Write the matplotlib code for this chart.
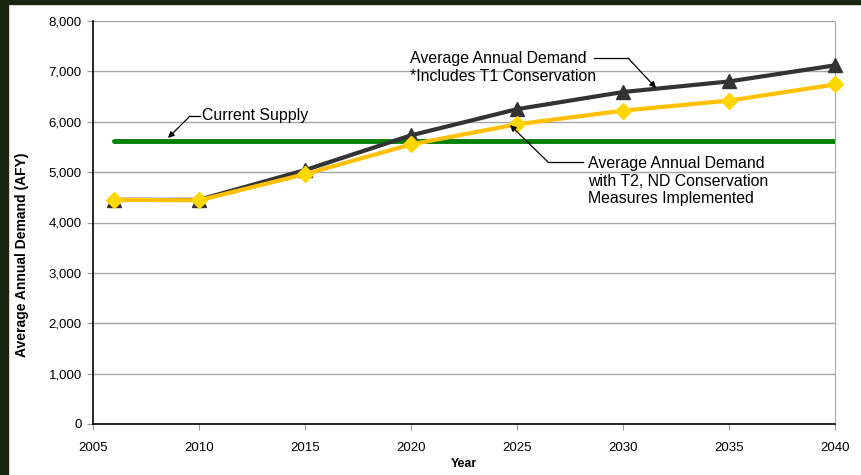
import matplotlib
matplotlib.use("Agg")
import matplotlib.pyplot as plt
from matplotlib.patches import Rectangle

plt.rcParams['font.family'] = ['Liberation Sans', 'DejaVu Sans']

years = [2006, 2010, 2015, 2020, 2025, 2030, 2035, 2040]
demand_t1 = [4450, 4450, 5040, 5730, 6250, 6590, 6800, 7120]
demand_t2 = [4450, 4440, 4960, 5550, 5950, 6220, 6420, 6740]
supply_years = [2006, 2040]
supply = [5620, 5620]

fig = plt.figure(figsize=(8.62, 4.75), dpi=100)
fig.patch.set_facecolor('white')
# dark frame strips (left and top)
fig.add_artist(Rectangle((0, 0), 8/862, 1, transform=fig.transFigure, color='#17260f', zorder=0))
fig.add_artist(Rectangle((0, 1 - 4/475), 1, 4/475, transform=fig.transFigure, color='#17260f', zorder=0))

ax = fig.add_axes([93/862, 51/475, 742/862, 403/475])
ax.set_xlim(2005, 2040)
ax.set_ylim(0, 8000)
ax.set_xticks(range(2005, 2041, 5))
ax.set_yticks(range(0, 8001, 1000))
ax.set_yticklabels([f"{v:,}" for v in range(0, 8001, 1000)])
ax.tick_params(axis='both', labelsize=9.5, length=4, color='#999999')
ax.tick_params(axis='y', pad=4)
ax.tick_params(axis='x', pad=9)
ax.grid(axis='y', color='#a6a6a6', linewidth=1)
ax.set_axisbelow(True)

ax.spines['top'].set_visible(False)
ax.spines['right'].set_color('#aaaaaa')
ax.spines['right'].set_linestyle((0, (2, 1)))
ax.spines['right'].set_linewidth(0.8)
ax.spines['left'].set_color('black')
ax.spines['bottom'].set_color('black')
ax.spines['left'].set_linewidth(1.2)
ax.spines['bottom'].set_linewidth(1.2)

ax.plot(supply_years, supply, color='#008000', linewidth=3.5, zorder=2, solid_capstyle='round')
ax.plot(years, demand_t1, color='#333333', linewidth=3, marker='^', markersize=9.5,
        markerfacecolor='#333333', markeredgecolor='#333333', zorder=3, clip_on=False)
ax.plot(years, demand_t2, color='#FFC000', linewidth=3, marker='D', markersize=8.5,
        markerfacecolor='#FFD700', markeredgecolor='#FFD700', zorder=4, clip_on=False)

ax.set_xlabel('Year', fontsize=9, fontweight='bold', labelpad=3)
ax.set_ylabel('Average Annual Demand (AFY)', fontsize=10, fontweight='bold')
ax.yaxis.set_label_coords(-0.0865, 0.419)

def px2data(x, y):
    X = 2005 + (x - 93) / 742 * 35
    Y = (424 - y) / 403 * 8000
    return X, Y

def leader(text_xy, corner, tip, label_xy, text):
    p1 = px2data(*text_xy)
    p2 = px2data(*corner)
    p3 = px2data(*tip)
    ax.plot([p1[0], p2[0]], [p1[1], p2[1]], color='black', linewidth=0.9, zorder=5, clip_on=False)
    ax.annotate('', xy=p3, xytext=p2,
                arrowprops=dict(arrowstyle='-|>', color='black', lw=0.9, mutation_scale=9,
                                shrinkA=0, shrinkB=0), zorder=5)
    lx, ly = px2data(*label_xy)
    ax.text(lx, ly, text, fontsize=11.4, va='top', ha='left', linespacing=1.22, zorder=6)

leader((200, 116), (190, 116), (168, 138), (202, 108), 'Current Supply')
leader((594, 58), (628, 58), (656, 88), (410, 51), 'Average Annual Demand\n*Includes T1 Conservation')
leader((583, 162), (548, 162), (510, 125), (588, 156),
       'Average Annual Demand\nwith T2, ND Conservation\nMeasures Implemented')

fig.savefig('out.png', dpi=100)
